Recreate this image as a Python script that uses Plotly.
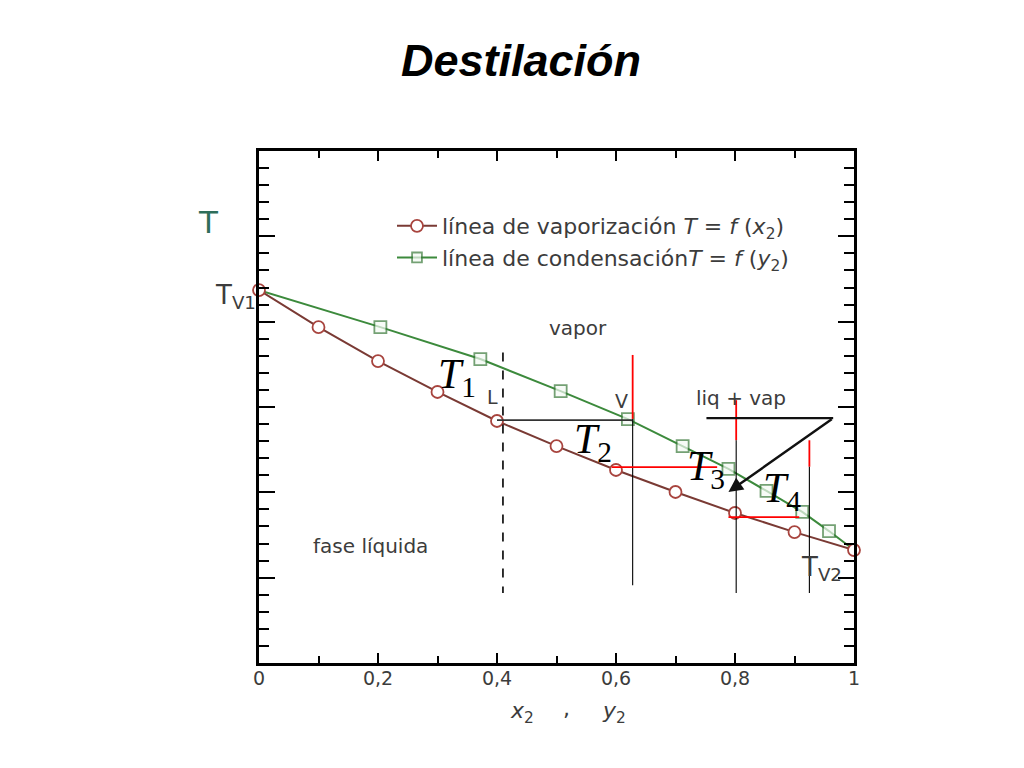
import plotly.graph_objects as go

# ---- data ----
x_liq = [0.0, 0.1, 0.2, 0.3, 0.4, 0.5, 0.6, 0.7, 0.8, 0.9, 1.0]
T_liq = [21.85, 19.68, 17.69, 15.88, 14.18, 12.71, 11.31, 10.02, 8.79, 7.67, 6.62]
y_vap = [0.0, 0.204, 0.372, 0.507, 0.620, 0.712, 0.789, 0.853, 0.913, 0.958, 1.0]
T_vap = [21.85, 19.68, 17.81, 15.93, 14.29, 12.71, 11.37, 10.08, 8.85, 7.73, 6.62]

xtick_vals = [0, 0.2, 0.4, 0.6, 0.8, 1.0]
xtick_text = ["0", "0,2", "0,4", "0,6", "0,8", "1"]

name_liq = "línea de vaporización <i>T</i> = <i>f</i> (<i>x</i><sub>2</sub>)"
name_vap = "línea de condensación<i>T</i> = <i>f</i> (<i>y</i><sub>2</sub>)"

RED = "#7a3a34"
RED_M = "#a8443e"
GREEN = "#3c8a3c"
GREEN_M = "#3a7a3a"
TXT = "#3c3c3c"
SANS = "DejaVu Sans, Arial"
SERIF = "Liberation Serif, Times New Roman"

# page is offset by the 8px body margin; figure size chosen to fit the window
W, H = 1008, 752
PL, PR, PT, PB = 259, 854, 151, 663      # plot box in window pixels
OFF = 8

# square markers hidden at the shared end points (circles drawn there)
vap_sizes = [0] + [12] * (len(y_vap) - 2) + [0]

fig = go.Figure()
fig.add_trace(go.Scatter(
    x=y_vap, y=T_vap, mode="lines+markers", name=name_vap,
    line=dict(color=GREEN, width=2),
    marker=dict(symbol="square", size=vap_sizes, color="#f4faf4",
                line=dict(color=GREEN_M, width=1.8)),
    cliponaxis=False))
fig.add_trace(go.Scatter(
    x=x_liq, y=T_liq, mode="lines+markers", name=name_liq,
    line=dict(color=RED, width=2),
    marker=dict(symbol="circle", size=12, color="white",
                line=dict(color=RED_M, width=1.8)),
    cliponaxis=False))

def seg(x0, y0, x1, y1, color="black", width=1.2, dash=None):
    fig.add_shape(type="line", xref="x", yref="y", x0=x0, y0=y0, x1=x1, y1=y1,
                  line=dict(color=color, width=width, dash=dash))

seg(0.410, 18.2, 0.410, 4.1, width=1.6, dash="dash")
seg(0.400, 14.23, 0.627, 14.23, color="#333", width=1.6)
seg(0.628, 18.05, 0.628, 14.3, color="red", width=1.8)
seg(0.628, 14.3, 0.628, 4.55, width=1.1)
seg(0.593, 11.48, 0.770, 11.48, color="red", width=1.8)
seg(0.802, 15.4, 0.802, 13.05, color="red", width=1.8)
seg(0.802, 13.05, 0.802, 4.1, width=1.1)
seg(0.789, 8.55, 0.908, 8.55, color="red", width=1.8)
seg(0.925, 13.05, 0.925, 11.5, color="red", width=1.8)
seg(0.925, 11.5, 0.925, 4.1, width=1.1)
seg(0.752, 14.35, 0.965, 14.35, color="#111", width=2.2)

fig.add_annotation(x=0.789, y=10.02, ax=0.965, ay=14.35, xref="x", yref="y",
                   axref="x", ayref="y", showarrow=True, arrowhead=2,
                   arrowsize=1.2, arrowwidth=2.4, arrowcolor="#111", text="")

def lab(x, y, text, size=20, color=TXT, family=SANS, xanchor="center"):
    fig.add_annotation(x=x, y=y, xref="x", yref="y", text=text, showarrow=False,
                       font=dict(size=size, color=color, family=family),
                       xanchor=xanchor, yanchor="middle")

def plab(px, py, text, size=20, color=TXT, family=SANS, xanchor="center"):
    fig.add_annotation(x=(px - PL) / (PR - PL), y=(PB - py) / (PB - PT),
                       xref="paper", yref="paper", text=text, showarrow=False,
                       font=dict(size=size, color=color, family=family),
                       xanchor=xanchor, yanchor="middle")

lab(0.332, 16.76, "<i>T</i><sub>1</sub>", size=42, color="black", family=SERIF)
lab(0.562, 12.96, "<i>T</i><sub>2</sub>", size=42, color="black", family=SERIF)
lab(0.752, 11.38, "<i>T</i><sub>3</sub>", size=42, color="black", family=SERIF)
lab(0.879, 10.05, "<i>T</i><sub>4</sub>", size=42, color="black", family=SERIF)

lab(0.393, 15.58, "L", size=19)
lab(0.610, 15.35, "V", size=19)
lab(0.536, 19.63, "vapor", size=20)
lab(0.810, 15.52, "liq + vap", size=20)
lab(0.187, 6.85, "fase líquida", size=20)
lab(0.945, 5.55, "T<sub>V2</sub>", size=26)

plab(208, 222, "T", size=31, color="#2e6e5a")
plab(258, 296, "T<sub>V1</sub>", size=26, xanchor="right")
plab(522, 712, "<i>x</i><sub>2</sub>", size=22)
plab(566, 708, ",", size=22)
plab(614, 712, "<i>y</i><sub>2</sub>", size=22)

fig.update_layout(
    width=W, height=H,
    margin=dict(l=PL - OFF, r=W - (PR - OFF), t=PT - OFF, b=H - (PB - OFF)),
    paper_bgcolor="white", plot_bgcolor="white",
    title=dict(text="<b><i>Destilación</i></b>", x=(521 - OFF) / W, xanchor="center",
               y=1 - (60 - OFF) / H, yanchor="middle",
               font=dict(size=45, color="black", family="Liberation Sans, Arial")),
    legend=dict(x=(392 - PL) / (PR - PL), y=(PB - 205) / (PB - PT),
                xanchor="left", yanchor="top", bgcolor="rgba(0,0,0,0)",
                font=dict(size=22, color=TXT, family=SANS),
                traceorder="reversed", itemwidth=40),
    showlegend=True,
)

fig.update_xaxes(range=[0, 1], tickvals=xtick_vals, ticktext=xtick_text,
                 ticks="inside", ticklen=10, tickwidth=2, tickcolor="black",
                 minor=dict(dtick=0.1, ticks="inside", ticklen=7, tickwidth=2, tickcolor="black"),
                 showline=True, linewidth=3, linecolor="black", mirror="allticks",
                 showgrid=False, zeroline=False, ticklabelstandoff=-4,
                 tickfont=dict(size=19, color=TXT, family=SANS))
fig.update_yaxes(range=[0, 30], dtick=5, showticklabels=False,
                 ticks="inside", ticklen=16, tickwidth=2, tickcolor="black",
                 minor=dict(dtick=1, ticks="inside", ticklen=10, tickwidth=2, tickcolor="black"),
                 showline=True, linewidth=3, linecolor="black", mirror="allticks",
                 showgrid=False, zeroline=False)

fig.write_html("out.html")
